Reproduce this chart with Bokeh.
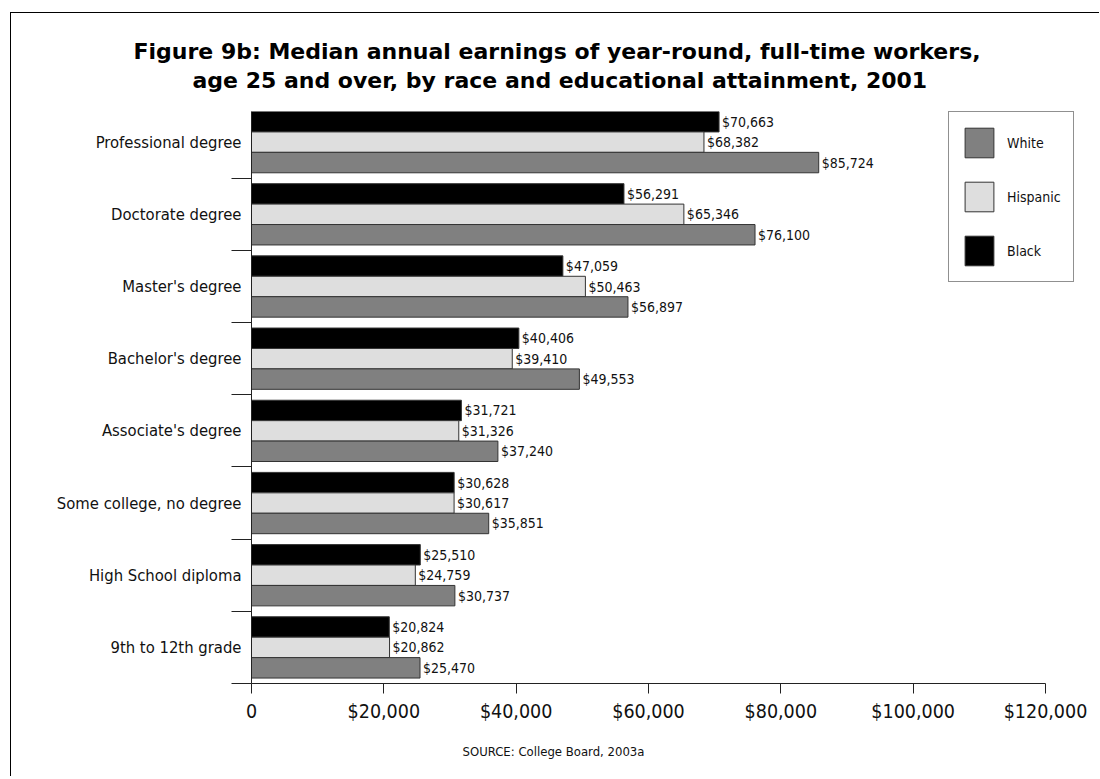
from bokeh.plotting import figure
from bokeh.models import (Range1d, FixedTicker, Legend, LegendItem, Title, ColumnDataSource)
from bokeh.core.properties import value
from bokeh.embed import file_html
from bokeh.resources import INLINE

# ---- data ----
categories = ["Professional degree", "Doctorate degree", "Master's degree",
              "Bachelor's degree", "Associate's degree", "Some college, no degree",
              "High School diploma", "9th to 12th grade"]
black = [70663, 56291, 47059, 40406, 31721, 30628, 25510, 20824]
hispanic = [68382, 65346, 50463, 39410, 31326, 30617, 24759, 20862]
white = [85724, 76100, 56897, 49553, 37240, 35851, 30737, 25470]
series_names = ["White", "Hispanic", "Black"]
x_ticks = [0, 20000, 40000, 60000, 80000, 100000, 120000]
x_tick_labels = ["0", "$20,000", "$40,000", "$60,000", "$80,000", "$100,000", "$120,000"]
title_lines = ["Figure 9b: Median annual earnings of year-round, full-time workers,",
               "age 25 and over, by race and educational attainment, 2001"]
source_note = "SOURCE: College Board, 2003a"

NARROW = "DejaVu Sans Condensed"
BOLD = "DejaVu Sans"

n = len(categories)
pos = [n - 1 - i for i in range(n)]  # top category highest

W, H = 1089, 764
FL, FT = 240, 98
FB = H - 670
FRAME_W = 830
AXIS_PX = 794
X_MAX = x_ticks[-1]
x_end = X_MAX * FRAME_W / AXIS_PX
bar_h = 0.283
y_top = n - 1 + 0.5 + bar_h * 1.5

p = figure(width=W, height=H, output_backend="svg", toolbar_location=None,
           x_range=Range1d(0, x_end), y_range=Range1d(0, y_top),
           min_border_left=FL, min_border_top=FT, min_border_bottom=FB,
           min_border_right=W - FL - FRAME_W, margin=(12, 0, 0, 10))
p.styles = {"border-left": "1px solid #000", "border-top": "1px solid #000"}
p.outline_line_color = None
p.xgrid.visible = False
p.ygrid.visible = False
p.background_fill_color = "white"
p.border_fill_color = "white"

colors = {"White": "#808080", "Hispanic": "#dedede", "Black": "#000000"}
vals = {"White": white, "Hispanic": hispanic, "Black": black}
offs = {"Black": 0.5 + bar_h, "Hispanic": 0.5, "White": 0.5 - bar_h}

renderers = {}
for name in ["Black", "Hispanic", "White"]:
    ys = [pp + offs[name] for pp in pos]
    src = ColumnDataSource(dict(y=ys, x=vals[name],
                                lab=[f"${v:,}" for v in vals[name]]))
    r = p.hbar(y="y", right="x", left=0, height=bar_h, source=src,
               fill_color=colors[name], line_color="#333333", line_width=1)
    renderers[name] = r
    p.text(x="x", y="y", text="lab", source=src, x_offset=3,
           text_baseline="middle", text_align="left",
           text_font=value(NARROW), text_font_size="14px", text_color="#111111")

# x axis
xa = p.xaxis[0]
xa.ticker = FixedTicker(ticks=x_ticks, minor_ticks=[])
xa.major_label_overrides = {t: l for t, l in zip(x_ticks, x_tick_labels)}
xa.bounds = (0, X_MAX)
xa.major_tick_out = 10
xa.major_tick_in = 0
xa.minor_tick_out = 0
xa.minor_tick_in = 0
xa.major_label_standoff = 6
xa.major_label_text_font = NARROW
xa.major_label_text_font_size = "19.5px"
xa.major_label_text_color = "#111111"
xa.axis_line_color = "#222222"
xa.major_tick_line_color = "#222222"

# y axis
ya = p.yaxis[0]
ya.ticker = FixedTicker(ticks=[pp + 0.5 for pp in pos], minor_ticks=list(range(n)))
ya.major_label_overrides = {pp + 0.5: c for pp, c in zip(pos, categories)}
ya.major_tick_out = 0
ya.major_tick_in = 0
ya.minor_tick_out = 20
ya.minor_tick_in = 0
ya.minor_tick_line_color = "#222222"
ya.major_label_standoff = -10
ya.major_label_text_font = NARROW
ya.major_label_text_font_size = "16.5px"
ya.major_label_text_color = "#111111"
ya.axis_line_color = "#222222"

# legend
legend = Legend(items=[LegendItem(label=nm, renderers=[renderers[nm]]) for nm in series_names],
                location=(697, 401), orientation="vertical",
                glyph_width=36, glyph_height=37, spacing=17, padding=12, margin=0,
                label_standoff=10, border_line_color="#222222", border_line_width=1,
                label_text_font=NARROW, label_text_font_size="14px",
                label_text_baseline="top",
                label_text_color="#111111", background_fill_color="white",
                background_fill_alpha=1.0)
p.add_layout(legend)

# spacer between plot and title block, then the two title lines
p.add_layout(Title(text=" ", text_font_size="1px", standoff=15), "above")
for line, off in [(title_lines[1], -59), (title_lines[0], -118)]:
    p.add_layout(Title(text=line, align="left", offset=off,
                       text_font=BOLD, text_font_size="22px", text_font_style="bold",
                       text_color="#000000", standoff=2), "above")

p.add_layout(Title(text=source_note, align="left", offset=211,
                   text_font=NARROW, text_font_size="13px", text_font_style="normal",
                   text_color="#111111", standoff=32), "below")

open("out.html", "w").write(file_html(p, INLINE))
